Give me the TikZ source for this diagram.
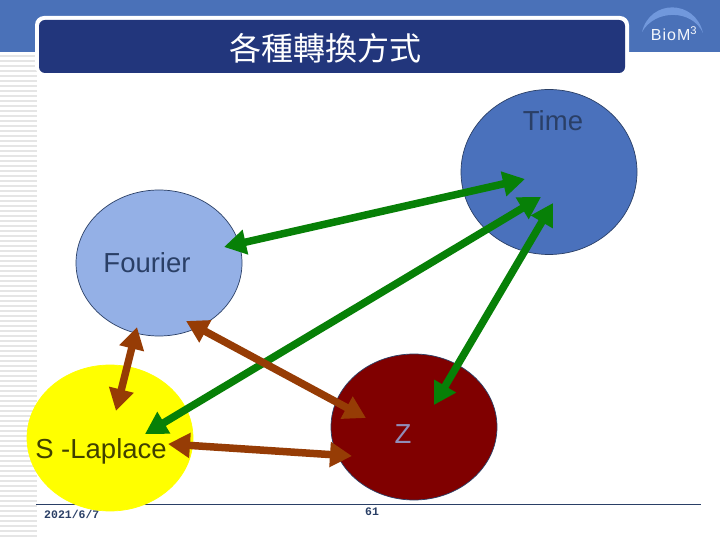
\documentclass[tikz,border=0pt]{standalone}
\usepackage{fontspec}
\setmainfont{Liberation Sans}
\setmonofont{Liberation Mono}
\newfontfamily\cjk{Noto Sans CJK TC}
\usetikzlibrary{arrows.meta,shapes.geometric}
\definecolor{bandblue}{HTML}{4A71B8}
\definecolor{titlenavy}{HTML}{22367C}
\definecolor{pureblue}{HTML}{4A71BC}
\definecolor{lightblue}{HTML}{94B0E6}
\definecolor{logoblue}{HTML}{7198DC}
\definecolor{darkred}{HTML}{800000}
\definecolor{pureyellow}{HTML}{FFFF00}
\definecolor{arrowgreen}{HTML}{078007}
\definecolor{arrowbrown}{HTML}{963C05}
\definecolor{rulenavy}{HTML}{2A3F66}
\tikzset{
  domain/.style={ellipse,draw=#1,inner sep=0pt,line width=.7pt},
  caption/.style={font=\fontsize{27.5}{27.5}\selectfont,inner sep=0pt,anchor=base},
  green arrow/.style={{Triangle[length=22pt,width=24pt]}-{Triangle[length=22pt,width=24pt]},line width=7.5pt,draw=arrowgreen},
  brown arrow/.style={{Triangle[length=22pt,width=24pt]}-{Triangle[length=22pt,width=24pt]},line width=7.5pt,draw=arrowbrown},
  footer/.style={font=\ttfamily\bfseries\fontsize{11.5}{11.5}\selectfont,text=rulenavy,inner sep=0pt}
}
\begin{document}
\begin{tikzpicture}[x=1pt,y=-1pt]
  \useasboundingbox (0,0) rectangle (720,540);
  \fill[white] (0,0) rectangle (720,540);
  \fill[bandblue] (0,0) rectangle (720,52.5);
  \foreach \y in {55,60,...,540}
    \fill[black!10] (0,\y) rectangle (37,\y+1.6);
  % title
  \node (titleback) [fill=white,rounded corners=9pt,minimum width=594pt,minimum height=59pt,inner sep=0pt] at (332,45.5) {};
  \node (title) [fill=titlenavy,rounded corners=6pt,minimum width=586pt,minimum height=53pt,inner sep=0pt] at (332,46.5) {};
  \node (titletext) [text=white,font=\cjk\fontsize{32}{32}\selectfont,inner sep=0pt] at (325,48) {各種轉換方式};
  % logo
  \fill[logoblue] (642,32) .. controls (650,-1) and (695,-1) .. (703,33) .. controls (692,9) and (655,9) .. (642,32);
  \node (logo) [text=white!90!lightblue,font=\fontsize{16}{16}\selectfont,inner sep=0pt] at (674,34) {B\kern1pt i\kern1pt o\kern1pt M\textsuperscript{3}};
  % footer
  \coordinate (ruleleft) at (36,504);
  \coordinate (ruleright) at (701,504);
  \draw[rulenavy,line width=.8pt] (ruleleft) -- (ruleright);
  \node (date) [footer,anchor=west] at (44,514.5) {2021/6/7};
  \node (page) [footer] at (372,512) {61};
  % domains
  \node (time) [domain=rulenavy,fill=pureblue,minimum width=176pt,minimum height=165pt] at (549,172) {};
  \node (fourier) [domain=rulenavy,fill=lightblue,minimum width=166pt,minimum height=146pt] at (159,263) {};
  \node (laplace) [domain=pureyellow,fill=pureyellow,minimum width=166pt,minimum height=146pt] at (110,438) {};
  \node (z) [domain=rulenavy,fill=darkred,minimum width=166pt,minimum height=146pt] at (414,427) {};
  \node (timetext) [caption,text=rulenavy] at (553,131) {Time};
  \node (fouriertext) [caption,text=rulenavy] at (147,272.5) {Fourier};
  \node (laplacetext) [caption,text=black!75!pureyellow] at (101,458) {S -Laplace};
  \node (ztext) [caption,text=lightblue!80!darkred] at (403,443) {Z};
  % arrow ends
  \coordinate (a1) at (224,247);
  \coordinate (a2) at (525,179);
  \coordinate (b1) at (145,434);
  \coordinate (b2) at (541,197);
  \coordinate (c1) at (434,405);
  \coordinate (c2) at (553,203);
  \coordinate (d1) at (137,327);
  \coordinate (d2) at (116,411);
  \coordinate (e1) at (186,321);
  \coordinate (e2) at (366,418);
  \coordinate (f1) at (168,444);
  \coordinate (f2) at (352,456);
  \draw[green arrow] (a1) -- (a2);
  \draw[green arrow] (b1) -- (b2);
  \draw[green arrow] (c1) -- (c2);
  \draw[brown arrow] (d1) -- (d2);
  \draw[brown arrow] (e1) -- (e2);
  \draw[brown arrow] (f1) -- (f2);
\end{tikzpicture}
\end{document}
